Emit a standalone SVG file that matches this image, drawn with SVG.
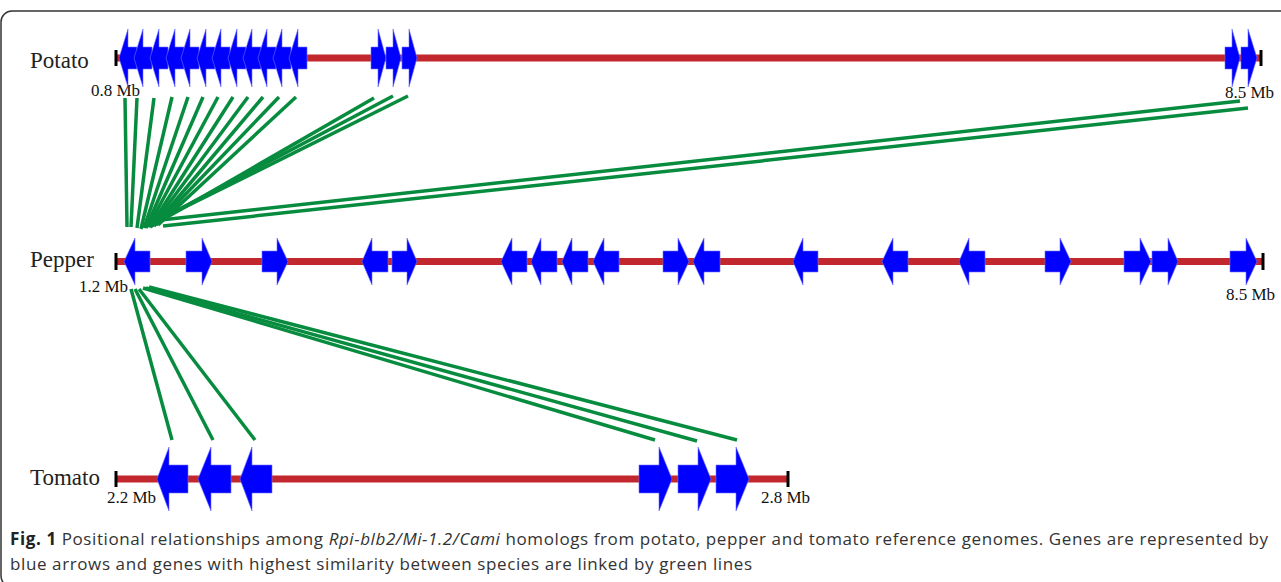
<svg xmlns="http://www.w3.org/2000/svg" width="1281" height="582" viewBox="0 0 1281 582">
<style>
.bar{stroke:#c1272d;stroke-width:7;fill:none}
.tick{stroke:#000;stroke-width:3;fill:none}
.gene{fill:#0000ff;stroke:#6f6fff;stroke-width:0.6}
.link{stroke:#078c3f;stroke-width:3.5;fill:none;stroke-linecap:butt}
.sp{font-family:"Liberation Serif","Times New Roman",serif;font-size:23px;fill:#222}
.mb{font-family:"Liberation Serif","Times New Roman",serif;font-size:17px;fill:#111}
.cap{font-family:"Open Sans","Noto Sans","Liberation Sans",sans-serif;font-size:17px;fill:#333}
</style>
<rect x="1" y="11" width="1310" height="576" rx="11" fill="none" stroke="#333" stroke-width="1.5"/>

<g id="connectors">
<line class="link" x1="125" y1="98" x2="127" y2="227"/>
<line class="link" x1="137" y1="98" x2="131" y2="227"/>
<line class="link" x1="154" y1="98" x2="137" y2="228"/>
<line class="link" x1="172" y1="97" x2="141" y2="229"/>
<line class="link" x1="188" y1="97" x2="144" y2="228"/>
<line class="link" x1="203" y1="97" x2="146" y2="228"/>
<line class="link" x1="218" y1="97" x2="148" y2="227"/>
<line class="link" x1="233" y1="97" x2="150" y2="227"/>
<line class="link" x1="248" y1="97" x2="152" y2="226"/>
<line class="link" x1="263" y1="97" x2="154" y2="226"/>
<line class="link" x1="279" y1="97" x2="156" y2="225"/>
<line class="link" x1="296" y1="97" x2="158" y2="225"/>
<line class="link" x1="374" y1="98" x2="150" y2="227"/>
<line class="link" x1="393" y1="96" x2="155" y2="222"/>
<line class="link" x1="408" y1="96" x2="163" y2="218"/>
<line class="link" x1="1240" y1="101" x2="161" y2="220"/>
<line class="link" x1="1248" y1="108" x2="163" y2="226"/>
<line class="link" x1="131" y1="289" x2="172" y2="440"/>
<line class="link" x1="135" y1="289" x2="213" y2="440"/>
<line class="link" x1="139" y1="289" x2="255" y2="440"/>
<line class="link" x1="143" y1="288" x2="655" y2="440"/>
<line class="link" x1="146" y1="288" x2="697" y2="441"/>
<line class="link" x1="149" y1="287" x2="737" y2="440"/>
</g>

<g id="potato">
<text class="sp" x="30" y="68">Potato</text>
<line class="bar" x1="116" y1="58" x2="1261" y2="58"/>
<line class="tick" x1="116" y1="50" x2="116" y2="66"/>
<line class="tick" x1="1261" y1="50" x2="1261" y2="66"/>
<text class="mb" x="91" y="96">0.8 Mb</text>
<text class="mb" x="1225" y="98">8.5 Mb</text>
<polygon class="gene" points="119,58 128,29 128,47 137,47 137,69 128,69 128,87"/>
<polygon class="gene" points="134,58 143,29 143,47 152,47 152,69 143,69 143,87"/>
<polygon class="gene" points="150,58 159,29 159,47 168,47 168,69 159,69 159,87"/>
<polygon class="gene" points="166,58 175,29 175,47 184,47 184,69 175,69 175,87"/>
<polygon class="gene" points="181,58 190,29 190,47 199,47 199,69 190,69 190,87"/>
<polygon class="gene" points="197,58 206,29 206,47 215,47 215,69 206,69 206,87"/>
<polygon class="gene" points="212,58 221,29 221,47 230,47 230,69 221,69 221,87"/>
<polygon class="gene" points="228,58 237,29 237,47 246,47 246,69 237,69 237,87"/>
<polygon class="gene" points="243,58 252,29 252,47 261,47 261,69 252,69 252,87"/>
<polygon class="gene" points="258,58 267,29 267,47 276,47 276,69 267,69 267,87"/>
<polygon class="gene" points="273,58 282,29 282,47 291,47 291,69 282,69 282,87"/>
<polygon class="gene" points="289,58 298,29 298,47 307,47 307,69 298,69 298,87"/>
<polygon class="gene" points="371,47 378,47 378,29 386,58 378,87 378,69 371,69"/>
<polygon class="gene" points="386,47 393,47 393,29 401,58 393,87 393,69 386,69"/>
<polygon class="gene" points="402,47 409,47 409,29 417,58 409,87 409,69 402,69"/>
<polygon class="gene" points="1225,47 1232,47 1232,29 1240,58 1232,87 1232,69 1225,69"/>
<polygon class="gene" points="1241,47 1248,47 1248,29 1257,58 1248,87 1248,69 1241,69"/>
</g>

<g id="pepper">
<text class="sp" x="30" y="267">Pepper</text>
<line class="bar" x1="116" y1="261.5" x2="1263" y2="261.5"/>
<line class="tick" x1="116" y1="253" x2="116" y2="270"/>
<line class="tick" x1="1263" y1="253" x2="1263" y2="270"/>
<text class="mb" x="79" y="292">1.2 Mb</text>
<text class="mb" x="1226" y="300">8.5 Mb</text>
<polygon class="gene" points="124,261.5 135,238 135,251 150,251 150,272 135,272 135,285"/>
<polygon class="gene" points="362,261.5 372,238 372,251 388,251 388,272 372,272 372,285"/>
<polygon class="gene" points="501,261.5 512,238 512,251 527,251 527,272 512,272 512,285"/>
<polygon class="gene" points="531,261.5 541,238 541,251 557,251 557,272 541,272 541,285"/>
<polygon class="gene" points="562,261.5 572,238 572,251 588,251 588,272 572,272 572,285"/>
<polygon class="gene" points="593,261.5 604,238 604,251 619,251 619,272 604,272 604,285"/>
<polygon class="gene" points="693,261.5 704,238 704,251 720,251 720,272 704,272 704,285"/>
<polygon class="gene" points="793,261.5 803,238 803,251 818,251 818,272 803,272 803,285"/>
<polygon class="gene" points="882,261.5 893,238 893,251 908,251 908,272 893,272 893,285"/>
<polygon class="gene" points="959,261.5 969,238 969,251 985,251 985,272 969,272 969,285"/>
<polygon class="gene" points="186,251 202,251 202,238 212,261.5 202,285 202,272 186,272"/>
<polygon class="gene" points="262,251 277,251 277,238 288,261.5 277,285 277,272 262,272"/>
<polygon class="gene" points="392,251 407,251 407,238 417,261.5 407,285 407,272 392,272"/>
<polygon class="gene" points="663,251 678,251 678,238 689,261.5 678,285 678,272 663,272"/>
<polygon class="gene" points="1045,251 1060,251 1060,238 1071,261.5 1060,285 1060,272 1045,272"/>
<polygon class="gene" points="1124,251 1140,251 1140,238 1151,261.5 1140,285 1140,272 1124,272"/>
<polygon class="gene" points="1152,251 1168,251 1168,238 1178,261.5 1168,285 1168,272 1152,272"/>
<polygon class="gene" points="1230,251 1246,251 1246,238 1257,261.5 1246,285 1246,272 1230,272"/>
</g>

<g id="tomato">
<text class="sp" x="30" y="485">Tomato</text>
<line class="bar" x1="116" y1="479" x2="788" y2="479"/>
<line class="tick" x1="116" y1="471" x2="116" y2="487"/>
<line class="tick" x1="788" y1="471" x2="788" y2="487"/>
<text class="mb" x="107" y="503">2.2 Mb</text>
<text class="mb" x="761" y="503">2.8 Mb</text>
<polygon class="gene" points="157,479 169,447 169,465 188,465 188,493 169,493 169,511"/>
<polygon class="gene" points="198,479 211,447 211,465 231,465 231,493 211,493 211,511"/>
<polygon class="gene" points="240,479 252,447 252,465 272,465 272,493 252,493 252,511"/>
<polygon class="gene" points="639,465 659,465 659,447 672,479 659,511 659,493 639,493"/>
<polygon class="gene" points="678,465 698,465 698,447 711,479 698,511 698,493 678,493"/>
<polygon class="gene" points="716,465 736,465 736,447 749,479 736,511 736,493 716,493"/>
</g>

<g id="caption">
<text class="cap" x="10" y="545" textLength="1258" lengthAdjust="spacing"><tspan font-weight="bold" fill="#222">Fig. 1</tspan> Positional relationships among <tspan font-style="italic">Rpi-blb2/Mi-1.2/Cami</tspan> homologs from potato, pepper and tomato reference genomes. Genes are represented by</text>
<text class="cap" x="10" y="570" textLength="742" lengthAdjust="spacing">blue arrows and genes with highest similarity between species are linked by green lines</text>
</g>
</svg>
